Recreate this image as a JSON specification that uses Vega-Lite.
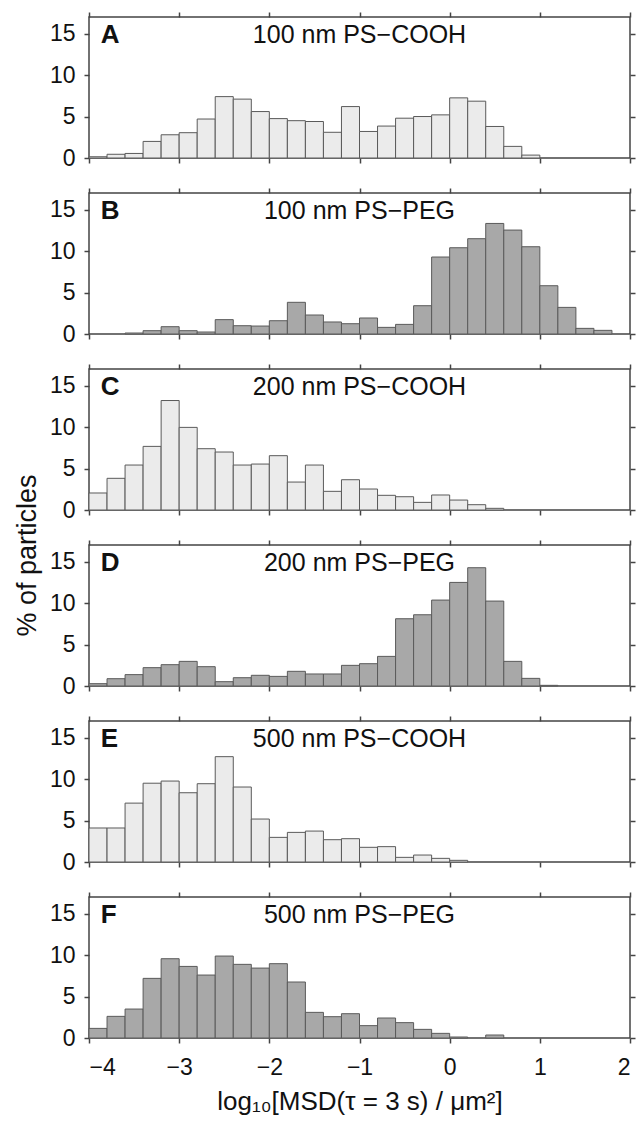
{
  "$schema": "https://vega.github.io/schema/vega-lite/v6.json",
  "background": "white",
  "padding": {"left": 12, "top": 10, "right": 5, "bottom": 5},
  "bounds": "flush",
  "spacing": 35,
  "config": {
    "font": "Liberation Sans",
    "view": {"stroke": "#444", "strokeWidth": 1.5},
    "axis": {"tickColor": "#444", "tickWidth": 1.5, "tickSize": 5, "domain": false, "grid": false, "labelColor": "#111", "titleColor": "#111", "labelFontSize": 23, "titleFontSize": 26, "titleFontWeight": "normal"}
  },
  "datasets": {
    "h": [
      {"p":"A","lo":-4.0,"hi":-3.8,"v":0.15},{"p":"A","lo":-3.8,"hi":-3.6,"v":0.45},{"p":"A","lo":-3.6,"hi":-3.4,"v":0.55},{"p":"A","lo":-3.4,"hi":-3.2,"v":2.0},{"p":"A","lo":-3.2,"hi":-3.0,"v":2.8},{"p":"A","lo":-3.0,"hi":-2.8,"v":3.05},{"p":"A","lo":-2.8,"hi":-2.6,"v":4.7},{"p":"A","lo":-2.6,"hi":-2.4,"v":7.4},{"p":"A","lo":-2.4,"hi":-2.2,"v":7.1},{"p":"A","lo":-2.2,"hi":-2.0,"v":5.6},{"p":"A","lo":-2.0,"hi":-1.8,"v":4.75},{"p":"A","lo":-1.8,"hi":-1.6,"v":4.5},{"p":"A","lo":-1.6,"hi":-1.4,"v":4.4},{"p":"A","lo":-1.4,"hi":-1.2,"v":3.1},{"p":"A","lo":-1.2,"hi":-1.0,"v":6.2},{"p":"A","lo":-1.0,"hi":-0.8,"v":3.2},{"p":"A","lo":-0.8,"hi":-0.6,"v":3.85},{"p":"A","lo":-0.6,"hi":-0.4,"v":4.8},{"p":"A","lo":-0.4,"hi":-0.2,"v":5.0},{"p":"A","lo":-0.2,"hi":0.0,"v":5.2},{"p":"A","lo":0.0,"hi":0.2,"v":7.25},{"p":"A","lo":0.2,"hi":0.4,"v":6.85},{"p":"A","lo":0.4,"hi":0.6,"v":3.8},{"p":"A","lo":0.6,"hi":0.8,"v":1.4},{"p":"A","lo":0.8,"hi":1.0,"v":0.35},
      {"p":"B","lo":-3.6,"hi":-3.4,"v":0.12},{"p":"B","lo":-3.4,"hi":-3.2,"v":0.4},{"p":"B","lo":-3.2,"hi":-3.0,"v":0.88},{"p":"B","lo":-3.0,"hi":-2.8,"v":0.4},{"p":"B","lo":-2.8,"hi":-2.6,"v":0.24},{"p":"B","lo":-2.6,"hi":-2.4,"v":1.73},{"p":"B","lo":-2.4,"hi":-2.2,"v":1.0},{"p":"B","lo":-2.2,"hi":-2.0,"v":0.96},{"p":"B","lo":-2.0,"hi":-1.8,"v":1.6},{"p":"B","lo":-1.8,"hi":-1.6,"v":3.82},{"p":"B","lo":-1.6,"hi":-1.4,"v":2.29},{"p":"B","lo":-1.4,"hi":-1.2,"v":1.45},{"p":"B","lo":-1.2,"hi":-1.0,"v":1.24},{"p":"B","lo":-1.0,"hi":-0.8,"v":1.93},{"p":"B","lo":-0.8,"hi":-0.6,"v":0.8},{"p":"B","lo":-0.6,"hi":-0.4,"v":1.16},{"p":"B","lo":-0.4,"hi":-0.2,"v":3.41},{"p":"B","lo":-0.2,"hi":0.0,"v":9.28},{"p":"B","lo":0.0,"hi":0.2,"v":10.4},{"p":"B","lo":0.2,"hi":0.4,"v":11.49},{"p":"B","lo":0.4,"hi":0.6,"v":13.33},{"p":"B","lo":0.6,"hi":0.8,"v":12.53},{"p":"B","lo":0.8,"hi":1.0,"v":10.52},{"p":"B","lo":1.0,"hi":1.2,"v":5.82},{"p":"B","lo":1.2,"hi":1.4,"v":3.21},{"p":"B","lo":1.4,"hi":1.6,"v":0.68},{"p":"B","lo":1.6,"hi":1.8,"v":0.44},
      {"p":"C","lo":-4.0,"hi":-3.8,"v":2.05},{"p":"C","lo":-3.8,"hi":-3.6,"v":3.82},{"p":"C","lo":-3.6,"hi":-3.4,"v":5.42},{"p":"C","lo":-3.4,"hi":-3.2,"v":7.67},{"p":"C","lo":-3.2,"hi":-3.0,"v":13.2},{"p":"C","lo":-3.0,"hi":-2.8,"v":9.96},{"p":"C","lo":-2.8,"hi":-2.6,"v":7.39},{"p":"C","lo":-2.6,"hi":-2.4,"v":6.99},{"p":"C","lo":-2.4,"hi":-2.2,"v":5.42},{"p":"C","lo":-2.2,"hi":-2.0,"v":5.54},{"p":"C","lo":-2.0,"hi":-1.8,"v":6.55},{"p":"C","lo":-1.8,"hi":-1.6,"v":3.37},{"p":"C","lo":-1.6,"hi":-1.4,"v":5.42},{"p":"C","lo":-1.4,"hi":-1.2,"v":2.25},{"p":"C","lo":-1.2,"hi":-1.0,"v":3.65},{"p":"C","lo":-1.0,"hi":-0.8,"v":2.53},{"p":"C","lo":-0.8,"hi":-0.6,"v":1.77},{"p":"C","lo":-0.6,"hi":-0.4,"v":1.6},{"p":"C","lo":-0.4,"hi":-0.2,"v":0.92},{"p":"C","lo":-0.2,"hi":0.0,"v":1.81},{"p":"C","lo":0.0,"hi":0.2,"v":1.2},{"p":"C","lo":0.2,"hi":0.4,"v":0.64},{"p":"C","lo":0.4,"hi":0.6,"v":0.2},
      {"p":"D","lo":-4.0,"hi":-3.8,"v":0.28},{"p":"D","lo":-3.8,"hi":-3.6,"v":0.88},{"p":"D","lo":-3.6,"hi":-3.4,"v":1.37},{"p":"D","lo":-3.4,"hi":-3.2,"v":2.21},{"p":"D","lo":-3.2,"hi":-3.0,"v":2.57},{"p":"D","lo":-3.0,"hi":-2.8,"v":2.97},{"p":"D","lo":-2.8,"hi":-2.6,"v":2.33},{"p":"D","lo":-2.6,"hi":-2.4,"v":0.52},{"p":"D","lo":-2.4,"hi":-2.2,"v":1.0},{"p":"D","lo":-2.2,"hi":-2.0,"v":1.29},{"p":"D","lo":-2.0,"hi":-1.8,"v":1.16},{"p":"D","lo":-1.8,"hi":-1.6,"v":1.77},{"p":"D","lo":-1.6,"hi":-1.4,"v":1.45},{"p":"D","lo":-1.4,"hi":-1.2,"v":1.45},{"p":"D","lo":-1.2,"hi":-1.0,"v":2.49},{"p":"D","lo":-1.0,"hi":-0.8,"v":2.69},{"p":"D","lo":-0.8,"hi":-0.6,"v":3.57},{"p":"D","lo":-0.6,"hi":-0.4,"v":8.11},{"p":"D","lo":-0.4,"hi":-0.2,"v":8.59},{"p":"D","lo":-0.2,"hi":0.0,"v":10.36},{"p":"D","lo":0.0,"hi":0.2,"v":12.49},{"p":"D","lo":0.2,"hi":0.4,"v":14.26},{"p":"D","lo":0.4,"hi":0.6,"v":10.24},{"p":"D","lo":0.6,"hi":0.8,"v":2.97},{"p":"D","lo":0.8,"hi":1.0,"v":0.92},{"p":"D","lo":1.0,"hi":1.2,"v":0.08},
      {"p":"E","lo":-4.0,"hi":-3.8,"v":4.1},{"p":"E","lo":-3.8,"hi":-3.6,"v":4.1},{"p":"E","lo":-3.6,"hi":-3.4,"v":7.1},{"p":"E","lo":-3.4,"hi":-3.2,"v":9.5},{"p":"E","lo":-3.2,"hi":-3.0,"v":9.76},{"p":"E","lo":-3.0,"hi":-2.8,"v":8.35},{"p":"E","lo":-2.8,"hi":-2.6,"v":9.44},{"p":"E","lo":-2.6,"hi":-2.4,"v":12.7},{"p":"E","lo":-2.4,"hi":-2.2,"v":9.04},{"p":"E","lo":-2.2,"hi":-2.0,"v":5.18},{"p":"E","lo":-2.0,"hi":-1.8,"v":2.97},{"p":"E","lo":-1.8,"hi":-1.6,"v":3.57},{"p":"E","lo":-1.6,"hi":-1.4,"v":3.73},{"p":"E","lo":-1.4,"hi":-1.2,"v":2.69},{"p":"E","lo":-1.2,"hi":-1.0,"v":2.81},{"p":"E","lo":-1.0,"hi":-0.8,"v":1.77},{"p":"E","lo":-0.8,"hi":-0.6,"v":1.85},{"p":"E","lo":-0.6,"hi":-0.4,"v":0.56},{"p":"E","lo":-0.4,"hi":-0.2,"v":0.84},{"p":"E","lo":-0.2,"hi":0.0,"v":0.44},{"p":"E","lo":0.0,"hi":0.2,"v":0.2},
      {"p":"F","lo":-4.0,"hi":-3.8,"v":1.16},{"p":"F","lo":-3.8,"hi":-3.6,"v":2.61},{"p":"F","lo":-3.6,"hi":-3.4,"v":3.49},{"p":"F","lo":-3.4,"hi":-3.2,"v":7.19},{"p":"F","lo":-3.2,"hi":-3.0,"v":9.56},{"p":"F","lo":-3.0,"hi":-2.8,"v":8.63},{"p":"F","lo":-2.8,"hi":-2.6,"v":7.59},{"p":"F","lo":-2.6,"hi":-2.4,"v":9.88},{"p":"F","lo":-2.4,"hi":-2.2,"v":8.88},{"p":"F","lo":-2.2,"hi":-2.0,"v":8.43},{"p":"F","lo":-2.0,"hi":-1.8,"v":8.96},{"p":"F","lo":-1.8,"hi":-1.6,"v":6.75},{"p":"F","lo":-1.6,"hi":-1.4,"v":3.09},{"p":"F","lo":-1.4,"hi":-1.2,"v":2.57},{"p":"F","lo":-1.2,"hi":-1.0,"v":2.93},{"p":"F","lo":-1.0,"hi":-0.8,"v":1.49},{"p":"F","lo":-0.8,"hi":-0.6,"v":2.41},{"p":"F","lo":-0.6,"hi":-0.4,"v":1.85},{"p":"F","lo":-0.4,"hi":-0.2,"v":1.04},{"p":"F","lo":-0.2,"hi":0.0,"v":0.56},{"p":"F","lo":0.0,"hi":0.2,"v":0.12},{"p":"F","lo":0.4,"hi":0.6,"v":0.36}
    ],
    "lab": [
      {"p":"A","letter":"A","title":"100 nm PS−COOH"},
      {"p":"B","letter":"B","title":"100 nm PS−PEG"},
      {"p":"C","letter":"C","title":"200 nm PS−COOH"},
      {"p":"D","letter":"D","title":"200 nm PS−PEG"},
      {"p":"E","letter":"E","title":"500 nm PS−COOH"},
      {"p":"F","letter":"F","title":"500 nm PS−PEG"}
    ]
  },
  "vconcat": [
    {
      "width": 541, "height": 141,
      "resolve": {"axis": {"x": "independent", "y": "independent"}},
      "layer": [
        {"data": {"name": "h"}, "transform": [{"filter": "datum.p == 'A'"}],
         "mark": {"type": "bar", "fill": "#ebebeb", "stroke": "#5a5a5a", "strokeWidth": 1},
         "encoding": {
           "x": {"field": "lo", "type": "quantitative", "scale": {"domain": [-4, 2], "nice": false, "zero": false}, "axis": {"orient": "bottom", "values": [-4,-3,-2,-1,0,1,2], "labels": false, "title": null}},
           "x2": {"field": "hi"},
           "y": {"field": "v", "type": "quantitative", "scale": {"domain": [0, 17], "nice": false}, "axis": {"orient": "left", "values": [0,5,10,15], "title": null, "labelPadding": 9}},
           "y2": {"datum": 0}}},
        {"data": {"name": "lab"}, "transform": [{"filter": "datum.p == 'A'"}],
         "mark": {"type": "text", "fontSize": 26, "fontWeight": "bold", "align": "left", "baseline": "middle", "color": "#111"},
         "encoding": {
           "x": {"datum": -3.87, "type": "quantitative", "axis": {"orient": "top", "values": [-4,-3,-2,-1,0,1,2], "labels": false, "title": null}},
           "y": {"datum": 14.8, "type": "quantitative", "axis": {"orient": "right", "values": [0,5,10,15], "labels": false, "title": null}},
           "text": {"field": "letter"}}},
        {"data": {"name": "lab"}, "transform": [{"filter": "datum.p == 'A'"}],
         "mark": {"type": "text", "fontSize": 25, "align": "center", "baseline": "middle", "color": "#111"},
         "encoding": {
           "x": {"datum": -1, "type": "quantitative", "axis": null},
           "y": {"datum": 14.8, "type": "quantitative", "axis": null},
           "text": {"field": "title"}}}
      ]
    },
    {
      "width": 541, "height": 141,
      "resolve": {"axis": {"x": "independent", "y": "independent"}},
      "layer": [
        {"data": {"name": "h"}, "transform": [{"filter": "datum.p == 'B'"}],
         "mark": {"type": "bar", "fill": "#a8a8a8", "stroke": "#5a5a5a", "strokeWidth": 1},
         "encoding": {
           "x": {"field": "lo", "type": "quantitative", "scale": {"domain": [-4, 2], "nice": false, "zero": false}, "axis": {"orient": "bottom", "values": [-4,-3,-2,-1,0,1,2], "labels": false, "title": null}},
           "x2": {"field": "hi"},
           "y": {"field": "v", "type": "quantitative", "scale": {"domain": [0, 17], "nice": false}, "axis": {"orient": "left", "values": [0,5,10,15], "title": null, "labelPadding": 9}},
           "y2": {"datum": 0}}},
        {"data": {"name": "lab"}, "transform": [{"filter": "datum.p == 'B'"}],
         "mark": {"type": "text", "fontSize": 26, "fontWeight": "bold", "align": "left", "baseline": "middle", "color": "#111"},
         "encoding": {
           "x": {"datum": -3.87, "type": "quantitative", "axis": {"orient": "top", "values": [-4,-3,-2,-1,0,1,2], "labels": false, "title": null}},
           "y": {"datum": 14.8, "type": "quantitative", "axis": {"orient": "right", "values": [0,5,10,15], "labels": false, "title": null}},
           "text": {"field": "letter"}}},
        {"data": {"name": "lab"}, "transform": [{"filter": "datum.p == 'B'"}],
         "mark": {"type": "text", "fontSize": 25, "align": "center", "baseline": "middle", "color": "#111"},
         "encoding": {
           "x": {"datum": -1, "type": "quantitative", "axis": null},
           "y": {"datum": 14.8, "type": "quantitative", "axis": null},
           "text": {"field": "title"}}}
      ]
    },
    {
      "width": 541, "height": 141,
      "resolve": {"axis": {"x": "independent", "y": "independent"}},
      "layer": [
        {"data": {"name": "h"}, "transform": [{"filter": "datum.p == 'C'"}],
         "mark": {"type": "bar", "fill": "#ebebeb", "stroke": "#5a5a5a", "strokeWidth": 1},
         "encoding": {
           "x": {"field": "lo", "type": "quantitative", "scale": {"domain": [-4, 2], "nice": false, "zero": false}, "axis": {"orient": "bottom", "values": [-4,-3,-2,-1,0,1,2], "labels": false, "title": null}},
           "x2": {"field": "hi"},
           "y": {"field": "v", "type": "quantitative", "scale": {"domain": [0, 17], "nice": false}, "axis": {"orient": "left", "values": [0,5,10,15], "title": "% of particles", "titleFontSize": 27, "titleY": 186, "titlePadding": 8, "labelPadding": 9}},
           "y2": {"datum": 0}}},
        {"data": {"name": "lab"}, "transform": [{"filter": "datum.p == 'C'"}],
         "mark": {"type": "text", "fontSize": 26, "fontWeight": "bold", "align": "left", "baseline": "middle", "color": "#111"},
         "encoding": {
           "x": {"datum": -3.87, "type": "quantitative", "axis": {"orient": "top", "values": [-4,-3,-2,-1,0,1,2], "labels": false, "title": null}},
           "y": {"datum": 14.8, "type": "quantitative", "axis": {"orient": "right", "values": [0,5,10,15], "labels": false, "title": null}},
           "text": {"field": "letter"}}},
        {"data": {"name": "lab"}, "transform": [{"filter": "datum.p == 'C'"}],
         "mark": {"type": "text", "fontSize": 25, "align": "center", "baseline": "middle", "color": "#111"},
         "encoding": {
           "x": {"datum": -1, "type": "quantitative", "axis": null},
           "y": {"datum": 14.8, "type": "quantitative", "axis": null},
           "text": {"field": "title"}}}
      ]
    },
    {
      "width": 541, "height": 141,
      "resolve": {"axis": {"x": "independent", "y": "independent"}},
      "layer": [
        {"data": {"name": "h"}, "transform": [{"filter": "datum.p == 'D'"}],
         "mark": {"type": "bar", "fill": "#a8a8a8", "stroke": "#5a5a5a", "strokeWidth": 1},
         "encoding": {
           "x": {"field": "lo", "type": "quantitative", "scale": {"domain": [-4, 2], "nice": false, "zero": false}, "axis": {"orient": "bottom", "values": [-4,-3,-2,-1,0,1,2], "labels": false, "title": null}},
           "x2": {"field": "hi"},
           "y": {"field": "v", "type": "quantitative", "scale": {"domain": [0, 17], "nice": false}, "axis": {"orient": "left", "values": [0,5,10,15], "title": null, "labelPadding": 9}},
           "y2": {"datum": 0}}},
        {"data": {"name": "lab"}, "transform": [{"filter": "datum.p == 'D'"}],
         "mark": {"type": "text", "fontSize": 26, "fontWeight": "bold", "align": "left", "baseline": "middle", "color": "#111"},
         "encoding": {
           "x": {"datum": -3.87, "type": "quantitative", "axis": {"orient": "top", "values": [-4,-3,-2,-1,0,1,2], "labels": false, "title": null}},
           "y": {"datum": 14.8, "type": "quantitative", "axis": {"orient": "right", "values": [0,5,10,15], "labels": false, "title": null}},
           "text": {"field": "letter"}}},
        {"data": {"name": "lab"}, "transform": [{"filter": "datum.p == 'D'"}],
         "mark": {"type": "text", "fontSize": 25, "align": "center", "baseline": "middle", "color": "#111"},
         "encoding": {
           "x": {"datum": -1, "type": "quantitative", "axis": null},
           "y": {"datum": 14.8, "type": "quantitative", "axis": null},
           "text": {"field": "title"}}}
      ]
    },
    {
      "width": 541, "height": 141,
      "resolve": {"axis": {"x": "independent", "y": "independent"}},
      "layer": [
        {"data": {"name": "h"}, "transform": [{"filter": "datum.p == 'E'"}],
         "mark": {"type": "bar", "fill": "#ebebeb", "stroke": "#5a5a5a", "strokeWidth": 1},
         "encoding": {
           "x": {"field": "lo", "type": "quantitative", "scale": {"domain": [-4, 2], "nice": false, "zero": false}, "axis": {"orient": "bottom", "values": [-4,-3,-2,-1,0,1,2], "labels": false, "title": null}},
           "x2": {"field": "hi"},
           "y": {"field": "v", "type": "quantitative", "scale": {"domain": [0, 17], "nice": false}, "axis": {"orient": "left", "values": [0,5,10,15], "title": null, "labelPadding": 9}},
           "y2": {"datum": 0}}},
        {"data": {"name": "lab"}, "transform": [{"filter": "datum.p == 'E'"}],
         "mark": {"type": "text", "fontSize": 26, "fontWeight": "bold", "align": "left", "baseline": "middle", "color": "#111"},
         "encoding": {
           "x": {"datum": -3.87, "type": "quantitative", "axis": {"orient": "top", "values": [-4,-3,-2,-1,0,1,2], "labels": false, "title": null}},
           "y": {"datum": 14.8, "type": "quantitative", "axis": {"orient": "right", "values": [0,5,10,15], "labels": false, "title": null}},
           "text": {"field": "letter"}}},
        {"data": {"name": "lab"}, "transform": [{"filter": "datum.p == 'E'"}],
         "mark": {"type": "text", "fontSize": 25, "align": "center", "baseline": "middle", "color": "#111"},
         "encoding": {
           "x": {"datum": -1, "type": "quantitative", "axis": null},
           "y": {"datum": 14.8, "type": "quantitative", "axis": null},
           "text": {"field": "title"}}}
      ]
    },
    {
      "width": 541, "height": 141,
      "resolve": {"axis": {"x": "independent", "y": "independent"}},
      "layer": [
        {"data": {"name": "h"}, "transform": [{"filter": "datum.p == 'F'"}],
         "mark": {"type": "bar", "fill": "#a8a8a8", "stroke": "#5a5a5a", "strokeWidth": 1},
         "encoding": {
           "x": {"field": "lo", "type": "quantitative", "scale": {"domain": [-4, 2], "nice": false, "zero": false}, "axis": {"orient": "bottom", "values": [-4,-3,-2,-1,0,1,2], "labels": true, "labelPadding": 13, "title": "log₁₀[MSD(τ = 3 s) / μm²]", "titlePadding": 9}},
           "x2": {"field": "hi"},
           "y": {"field": "v", "type": "quantitative", "scale": {"domain": [0, 17], "nice": false}, "axis": {"orient": "left", "values": [0,5,10,15], "title": null, "labelPadding": 9}},
           "y2": {"datum": 0}}},
        {"data": {"name": "lab"}, "transform": [{"filter": "datum.p == 'F'"}],
         "mark": {"type": "text", "fontSize": 26, "fontWeight": "bold", "align": "left", "baseline": "middle", "color": "#111"},
         "encoding": {
           "x": {"datum": -3.87, "type": "quantitative", "axis": {"orient": "top", "values": [-4,-3,-2,-1,0,1,2], "labels": false, "title": null}},
           "y": {"datum": 14.8, "type": "quantitative", "axis": {"orient": "right", "values": [0,5,10,15], "labels": false, "title": null}},
           "text": {"field": "letter"}}},
        {"data": {"name": "lab"}, "transform": [{"filter": "datum.p == 'F'"}],
         "mark": {"type": "text", "fontSize": 25, "align": "center", "baseline": "middle", "color": "#111"},
         "encoding": {
           "x": {"datum": -1, "type": "quantitative", "axis": null},
           "y": {"datum": 14.8, "type": "quantitative", "axis": null},
           "text": {"field": "title"}}}
      ]
    }
  ]
}
